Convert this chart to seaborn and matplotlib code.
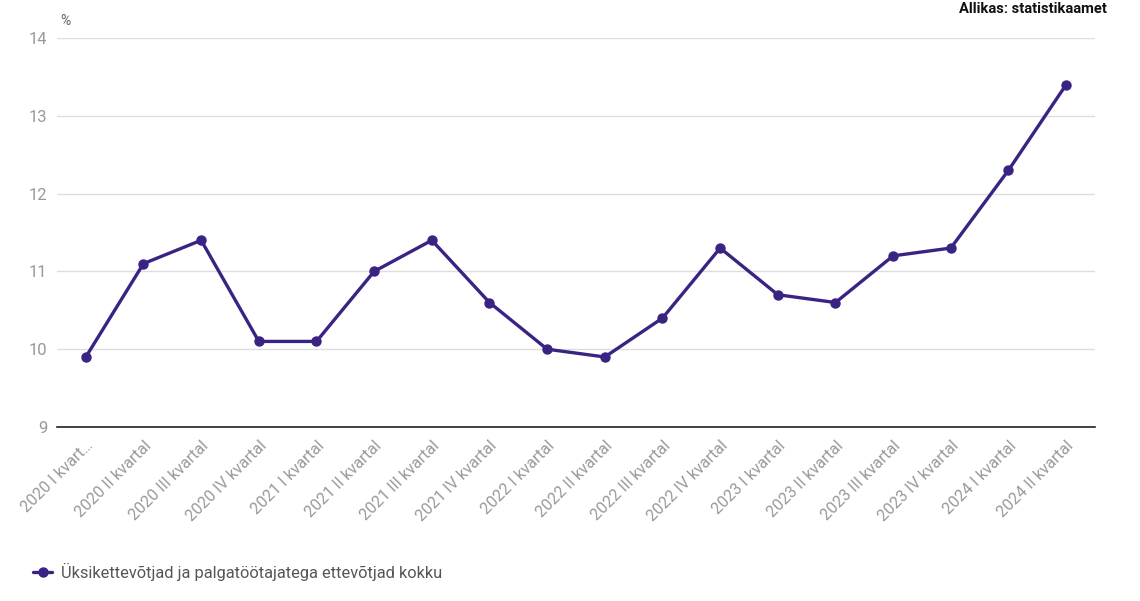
import matplotlib
matplotlib.use("Agg")
import matplotlib.pyplot as plt
import seaborn as sns
import pandas as pd

# andmed
kvartalid = ["2020 I kvart…", "2020 II kvartal", "2020 III kvartal", "2020 IV kvartal",
             "2021 I kvartal", "2021 II kvartal", "2021 III kvartal", "2021 IV kvartal",
             "2022 I kvartal", "2022 II kvartal", "2022 III kvartal", "2022 IV kvartal",
             "2023 I kvartal", "2023 II kvartal", "2023 III kvartal", "2023 IV kvartal",
             "2024 I kvartal", "2024 II kvartal"]
osakaal = [9.9, 11.1, 11.4, 10.1, 10.1, 11.0, 11.4, 10.6, 10.0, 9.9,
           10.4, 11.3, 10.7, 10.6, 11.2, 11.3, 12.3, 13.4]
seeria = "Üksikettevõtjad ja palgatöötajatega ettevõtjad kokku"

df = pd.DataFrame({"x": range(len(kvartalid)), "y": osakaal})

sns.set_style("white")
plt.rcParams["font.family"] = ["Roboto", "DejaVu Sans"]

fig = plt.figure(figsize=(11.4, 6.01), dpi=100)
ax = fig.add_axes([0.05, 0.2895, 0.9105, 0.6473])

varv = "#3b2383"
sns.lineplot(data=df, x="x", y="y", ax=ax, color=varv, linewidth=2.4,
             marker="o", markersize=7.5, markeredgewidth=0, label=seeria)

ax.set_xlim(-0.5, len(kvartalid) - 0.5)
ax.set_ylim(9, 14)
ax.set_yticks([9, 10, 11, 12, 13, 14])
ax.set_xticks(range(len(kvartalid)))
ax.set_xticklabels(kvartalid, rotation=45, ha="right", rotation_mode="anchor")
ax.set_xlabel("")
ax.set_ylabel("")

ax.grid(axis="y", color="#dddddd", linewidth=1)
ax.set_axisbelow(True)
for s in ["top", "right", "left"]:
    ax.spines[s].set_visible(False)
ax.spines["bottom"].set_color("#222222")
ax.spines["bottom"].set_linewidth(1.2)

ax.tick_params(axis="x", length=0, pad=8, labelsize=11.5, labelcolor="#999999")
ax.tick_params(axis="y", length=0, pad=7, labelsize=12, labelcolor="#999999")

fig.text(0.0525, 0.965, "%", fontsize=10, color="#666666", ha="left", va="center")
fig.text(0.971, 0.985, "Allikas: statistikaamet", fontsize=10.6, fontweight="bold",
         color="#111111", ha="right", va="center")

ax.legend(loc="center left", bbox_to_anchor=(0.023, 0.048), bbox_transform=fig.transFigure,
          frameon=False, fontsize=11.8, labelcolor="#555555",
          handlelength=1.2, handletextpad=0.5, borderaxespad=0)

fig.savefig("out.png", dpi=100)
